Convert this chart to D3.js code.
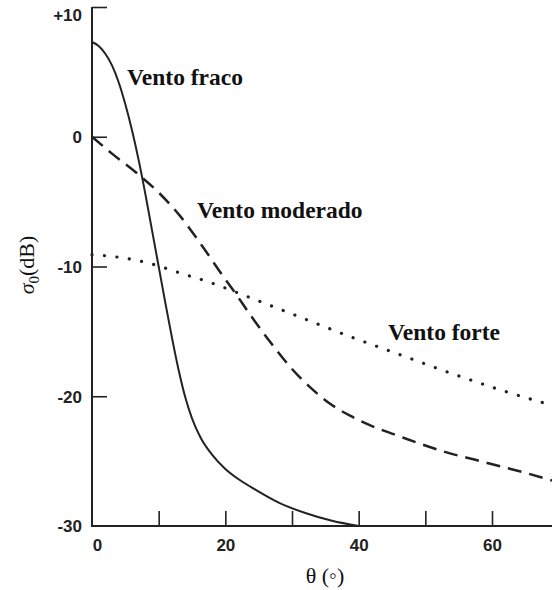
<!DOCTYPE html>
<html>
<head>
<meta charset="utf-8">
<script src="https://cdn.jsdelivr.net/npm/d3@7"></script>
<style>
  html, body { margin: 0; padding: 0; background: #fff; }
  svg { display: block; }
</style>
</head>
<body>
<svg id="chart" width="552" height="590"></svg>
<script>
// ---- data (theta in degrees, sigma0 in dB) ----
const ventoFracoTheta = [0, 1, 2, 3, 4, 5, 6, 7, 8, 9, 10, 11, 12, 13, 14, 15, 16.3, 18, 20, 22, 24.5, 28, 32, 36, 40];
const ventoFracoSigma = [7.3, 7.0, 6.4, 5.5, 4.2, 2.5, 0.5, -1.8, -4.4, -7.2, -10, -12.8, -15.5, -18.0, -20.1, -21.7, -23.2, -24.5, -25.6, -26.4, -27.2, -28.2, -29.0, -29.6, -30];

const ventoModeradoTheta = [0, 3, 6.7, 10, 13.2, 16.5, 19.6, 21.7, 23.7, 27, 30, 32.7, 35.5, 38.7, 42, 46.2, 50, 53.7, 57.5, 61.2, 65, 69];
const ventoModeradoSigma = [0, -1.3, -2.8, -4.3, -6.1, -8.4, -10.7, -12.2, -13.7, -16, -17.9, -19.3, -20.5, -21.5, -22.3, -23.1, -23.8, -24.4, -24.9, -25.4, -25.9, -26.5];

const ventoForteTheta = [0, 4.2, 8.2, 13.2, 18.1, 23.2, 31.2, 38.7, 46.2, 53.7, 61.2, 69];
const ventoForteSigma = [-9.1, -9.3, -9.7, -10.5, -11.3, -12.3, -13.9, -15.4, -16.8, -18.2, -19.5, -20.7];

const xTickValues = [0, 10, 20, 30, 40, 50, 60];
const xTickLabels = ["0", "", "20", "", "40", "", "60"];
const yTickValues = [10, 0, -10, -20, -30];
const yTickLabels = ["+10", "0", "-10", "-20", "-30"];

const seriesNames = ["Vento fraco", "Vento moderado", "Vento forte"];

// ---- layout ----
const svg = d3.select("#chart");
const x = d3.scaleLinear().domain([0, 69]).range([92, 552]);
const y = d3.scaleLinear().domain([-30, 10]).range([526, 7]);
const ink = "#222";
const sans = "'Liberation Sans', Arial, sans-serif";
const serif = "'Liberation Serif', 'DejaVu Serif', serif";

// y axis (ticks inward)
const yAxis = d3.axisRight(y)
  .tickValues(yTickValues)
  .tickSize(15)
  .tickFormat((d, i) => yTickLabels[i]);
const gy = svg.append("g").attr("transform", "translate(92,0)").call(yAxis);
gy.select(".domain").remove();
gy.selectAll(".tick line").attr("stroke", ink).attr("stroke-width", 1.6)
  .filter(d => d === -30).remove();
gy.selectAll(".tick text")
  .attr("x", -10).attr("text-anchor", "end")
  .attr("fill", ink)
  .style("font-family", sans)
  .style("font-size", "17px").style("font-weight", "bold")
  .attr("dy", d => d === 10 ? "0.8em" : "0.35em");

// x axis (ticks inward, upward)
const xAxis = d3.axisTop(x)
  .tickValues(xTickValues)
  .tickSize(15)
  .tickFormat((d, i) => xTickLabels[i]);
const gx = svg.append("g").attr("transform", "translate(0,526)").call(xAxis);
gx.select(".domain").remove();
gx.selectAll(".tick line").attr("stroke", ink).attr("stroke-width", 1.6)
  .filter(d => d === 0).remove();
gx.selectAll(".tick text")
  .attr("y", 25).attr("dy", 0)
  .attr("dx", d => d === 0 ? 5 : 0)
  .attr("fill", ink)
  .style("font-family", sans)
  .style("font-size", "17px").style("font-weight", "bold");

// axis lines
svg.append("line").attr("x1", 92).attr("x2", 92).attr("y1", y(10)).attr("y2", y(-30))
  .attr("stroke", ink).attr("stroke-width", 2);
svg.append("line").attr("x1", 91).attr("x2", 552).attr("y1", y(-30)).attr("y2", y(-30))
  .attr("stroke", ink).attr("stroke-width", 2);

// curves
const line = d3.line().x(d => x(d[0])).y(d => y(d[1])).curve(d3.curveMonotoneX);
const zip = (a, b) => a.map((v, i) => [v, b[i]]);

svg.append("path").datum(zip(ventoFracoTheta, ventoFracoSigma))
  .attr("d", line).attr("fill", "none").attr("stroke", ink).attr("stroke-width", 2);

svg.append("path").datum(zip(ventoModeradoTheta, ventoModeradoSigma))
  .attr("d", line).attr("fill", "none").attr("stroke", ink).attr("stroke-width", 2.5)
  .attr("stroke-dasharray", "14,8");

svg.append("path").datum(zip(ventoForteTheta, ventoForteSigma))
  .attr("d", line).attr("fill", "none").attr("stroke", ink).attr("stroke-width", 3.2)
  .attr("stroke-linecap", "round").attr("stroke-dasharray", "0.1,12.4");

// annotations
const labelPos = [[127, 85], [197, 218], [388, 340]];
svg.selectAll("text.series").data(seriesNames).enter().append("text")
  .attr("class", "series")
  .attr("x", (d, i) => labelPos[i][0]).attr("y", (d, i) => labelPos[i][1])
  .attr("fill", "#111")
  .style("font-family", serif).style("font-size", "23.5px").style("font-weight", "bold")
  .text(d => d);

// axis titles
svg.append("text").attr("x", 325).attr("y", 583).attr("text-anchor", "middle")
  .attr("fill", "#111").style("font-family", serif).style("font-size", "22px")
  .text("θ (◦)");

const yt = svg.append("text").attr("transform", "translate(34,265) rotate(-90)")
  .attr("text-anchor", "middle").attr("fill", "#111")
  .style("font-family", serif).style("font-size", "22px");
yt.append("tspan").style("font-style", "italic").text("σ");
yt.append("tspan").attr("dy", 5).style("font-size", "15px").text("0");
yt.append("tspan").attr("dy", -5).text("(dB)");
</script>
</body>
</html>
